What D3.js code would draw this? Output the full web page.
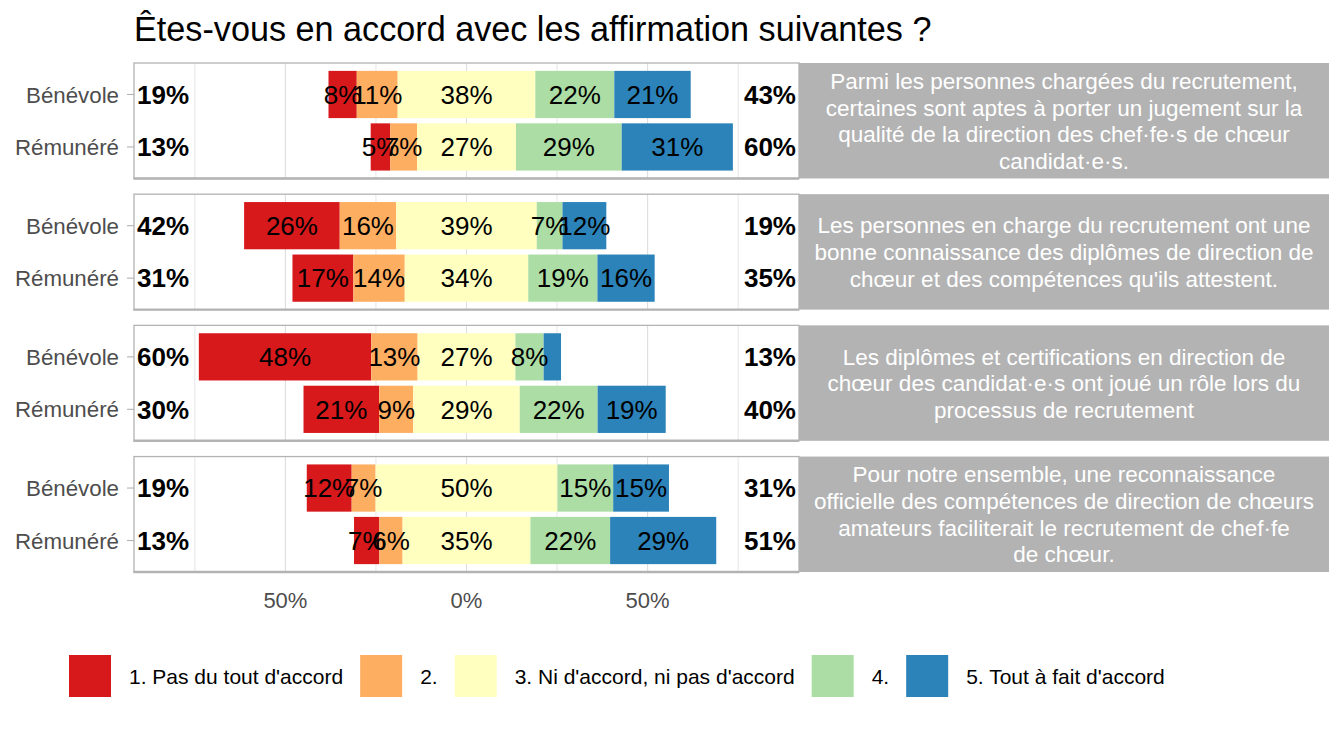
<!DOCTYPE html>
<html>
<head>
<meta charset="utf-8">
<script src="https://cdn.jsdelivr.net/npm/d3@7"></script>
<style>
  html, body { margin: 0; padding: 0; background: #fff; }
  svg text { font-family: "Liberation Sans", Arial, sans-serif; }
</style>
</head>
<body>
<svg id="chart" width="1344" height="729"></svg>
<script>
// ---------------- DATA ----------------
const title = "Êtes-vous en accord avec les affirmation suivantes ?";
const statements = [
  "Parmi les personnes chargées du recrutement,\ncertaines sont aptes à porter un jugement sur la\nqualité de la direction des chef·fe·s de chœur\ncandidat·e·s.",
  "Les personnes en charge du recrutement ont une\nbonne connaissance des diplômes de direction de\nchœur et des compétences qu'ils attestent.",
  "Les diplômes et certifications en direction de\nchœur des candidat·e·s ont joué un rôle lors du\nprocessus de recrutement",
  "Pour notre ensemble, une reconnaissance\nofficielle des compétences de direction de chœurs\namateurs faciliterait le recrutement de chef·fe\nde chœur."
];
const groups = ["Bénévole", "Rémunéré"];
const levels = ["1. Pas du tout d'accord", "2.", "3. Ni d'accord, ni pas d'accord", "4.", "5. Tout à fait d'accord"];
const colors = ["#d7191c", "#fdae61", "#ffffbf", "#abdda4", "#2b83ba"];
// percentages per row, rows ordered: statement 1 (Bénévole, Rémunéré), statement 2 (...), ...
const level1 = [7.8, 5.4, 26.4, 16.8, 47.6, 20.9, 12.4, 7.0];
const level2 = [11.3, 7.4, 15.6, 14.2, 12.8, 9.4, 6.6, 6.4];
const level3 = [38.0, 27.3, 38.8, 34.1, 27.0, 29.4, 50.2, 35.3];
const level4 = [21.8, 29.2, 7.1, 19.1, 7.8, 21.5, 15.4, 22.0];
const level5 = [21.1, 30.7, 12.1, 15.8, 4.8, 18.8, 15.4, 29.3];
const xTicks = [-50, 0, 50];
const xMinorTicks = [-75, -25, 25, 75];

// ---------------- BUILD ROWS ----------------
const levelValues = [level1, level2, level3, level4, level5];
const rows = [];
statements.forEach((s, si) => {
  groups.forEach((g, gi) => {
    const idx = si * 2 + gi;
    const vals = levelValues.map(a => a[idx]);
    const low = vals[0] + vals[1];
    const high = vals[3] + vals[4];
    let start = -(low + vals[2] / 2);
    const segs = vals.map((v, li) => {
      const seg = { x0: start, x1: start + v, v, li };
      start += v;
      return seg;
    });
    rows.push({ statement: s, si, group: g, segs, low, high });
  });
});

// ---------------- LAYOUT ----------------
const svg = d3.select("#chart");
const panelLeft = 134, panelRight = 799, stripRight = 1329;
const x = d3.scaleLinear().domain([-91.8, 91.8]).range([panelLeft, panelRight]);
const facet = d3.scaleBand().domain(statements).range([63, 572]).paddingInner(0.12).paddingOuter(0);
const ph = facet.bandwidth();
const y = d3.scaleBand().domain(groups).range([0, ph]).paddingInner(0.1).paddingOuter(0.15);
const color = d3.scaleOrdinal().domain(d3.range(5)).range(colors);
const fmt = v => Math.round(v) + "%";

// title
svg.append("text").attr("x", 134).attr("y", 41)
  .attr("font-size", 34.2).attr("fill", "#000").text(title);

statements.forEach((s, si) => {
  const top = facet(s);
  const g = svg.append("g").attr("transform", `translate(0,${top})`);
  // panel background + grid
  g.append("rect").attr("x", panelLeft).attr("y", 0).attr("width", panelRight - panelLeft).attr("height", ph).attr("fill", "#fff");
  g.selectAll("line.minor").data(xMinorTicks).join("line")
    .attr("x1", d => x(d)).attr("x2", d => x(d)).attr("y1", 0).attr("y2", ph)
    .attr("stroke", "#e6e6e6").attr("stroke-width", 1);
  g.selectAll("line.major").data(xTicks).join("line")
    .attr("x1", d => x(d)).attr("x2", d => x(d)).attr("y1", 0).attr("y2", ph)
    .attr("stroke", "#dedede").attr("stroke-width", 1.1);

  const prow = rows.filter(r => r.si === si);
  prow.forEach(r => {
    const yy = y(r.group), bh = y.bandwidth(), cy = yy + bh / 2;
    g.selectAll(null).data(r.segs).join("rect")
      .attr("x", d => x(d.x0)).attr("width", d => x(d.x1) - x(d.x0))
      .attr("y", yy).attr("height", bh)
      .attr("fill", d => color(d.li));
    g.selectAll(null).data(r.segs.filter(d => d.v >= 5)).join("text")
      .attr("x", d => x((d.x0 + d.x1) / 2)).attr("y", cy).attr("dy", "0.36em")
      .attr("text-anchor", "middle").attr("font-size", 26).attr("fill", "#000")
      .text(d => fmt(d.v));
    g.append("text").attr("x", panelLeft + 3).attr("y", cy).attr("dy", "0.36em")
      .attr("font-size", 26).attr("font-weight", "bold").attr("fill", "#000")
      .text(fmt(r.low));
    g.append("text").attr("x", panelRight - 3).attr("y", cy).attr("dy", "0.36em")
      .attr("text-anchor", "end").attr("font-size", 26).attr("font-weight", "bold").attr("fill", "#000")
      .text(fmt(r.high));
    // y axis label + tick
    g.append("line").attr("x1", panelLeft - 7).attr("x2", panelLeft).attr("y1", cy).attr("y2", cy)
      .attr("stroke", "#b3b3b3").attr("stroke-width", 1.1);
    g.append("text").attr("x", panelLeft - 15).attr("y", cy).attr("dy", "0.36em")
      .attr("text-anchor", "end").attr("font-size", 22.3).attr("fill", "#4d4d4d")
      .text(r.group);
  });

  // panel border (thicker bottom edge like the reference)
  g.append("rect").attr("x", panelLeft).attr("y", 0).attr("width", panelRight - panelLeft).attr("height", ph)
    .attr("fill", "none").attr("stroke", "#b3b3b3").attr("stroke-width", 1.3);
  g.append("line").attr("x1", panelLeft - 0.6).attr("x2", panelRight).attr("y1", ph).attr("y2", ph)
    .attr("stroke", "#b3b3b3").attr("stroke-width", 2.4);

  // strip
  g.append("rect").attr("x", panelRight).attr("y", 0).attr("width", stripRight - panelRight).attr("height", ph)
    .attr("fill", "#b3b3b3");
  const lines = s.split("\n");
  const lh = 26.6;
  const t = g.append("text").attr("text-anchor", "middle").attr("font-size", 22.5).attr("fill", "#fff");
  lines.forEach((ln, i) => {
    t.append("tspan").attr("x", (panelRight + stripRight) / 2)
      .attr("y", ph / 2 + (i - (lines.length - 1) / 2) * lh)
      .attr("dy", "0.36em").text(ln);
  });
});

// x axis labels
svg.append("g").selectAll("text").data(xTicks).join("text")
  .attr("x", d => x(d)).attr("y", 608).attr("text-anchor", "middle")
  .attr("font-size", 22).attr("fill", "#4d4d4d")
  .text(d => Math.abs(d) + "%");

// legend
const leg = svg.append("g");
let lx = 69;
const keyY = 655, keyS = 42;
levels.forEach((lv, i) => {
  leg.append("rect").attr("x", lx).attr("y", keyY).attr("width", keyS).attr("height", keyS).attr("fill", colors[i]);
  const tx = leg.append("text").attr("x", lx + keyS + 18).attr("y", keyY + keyS / 2).attr("dy", "0.36em")
    .attr("font-size", 21).attr("fill", "#000").text(lv);
  lx = lx + keyS + 18 + tx.node().getComputedTextLength() + 17;
});
</script>
</body>
</html>
